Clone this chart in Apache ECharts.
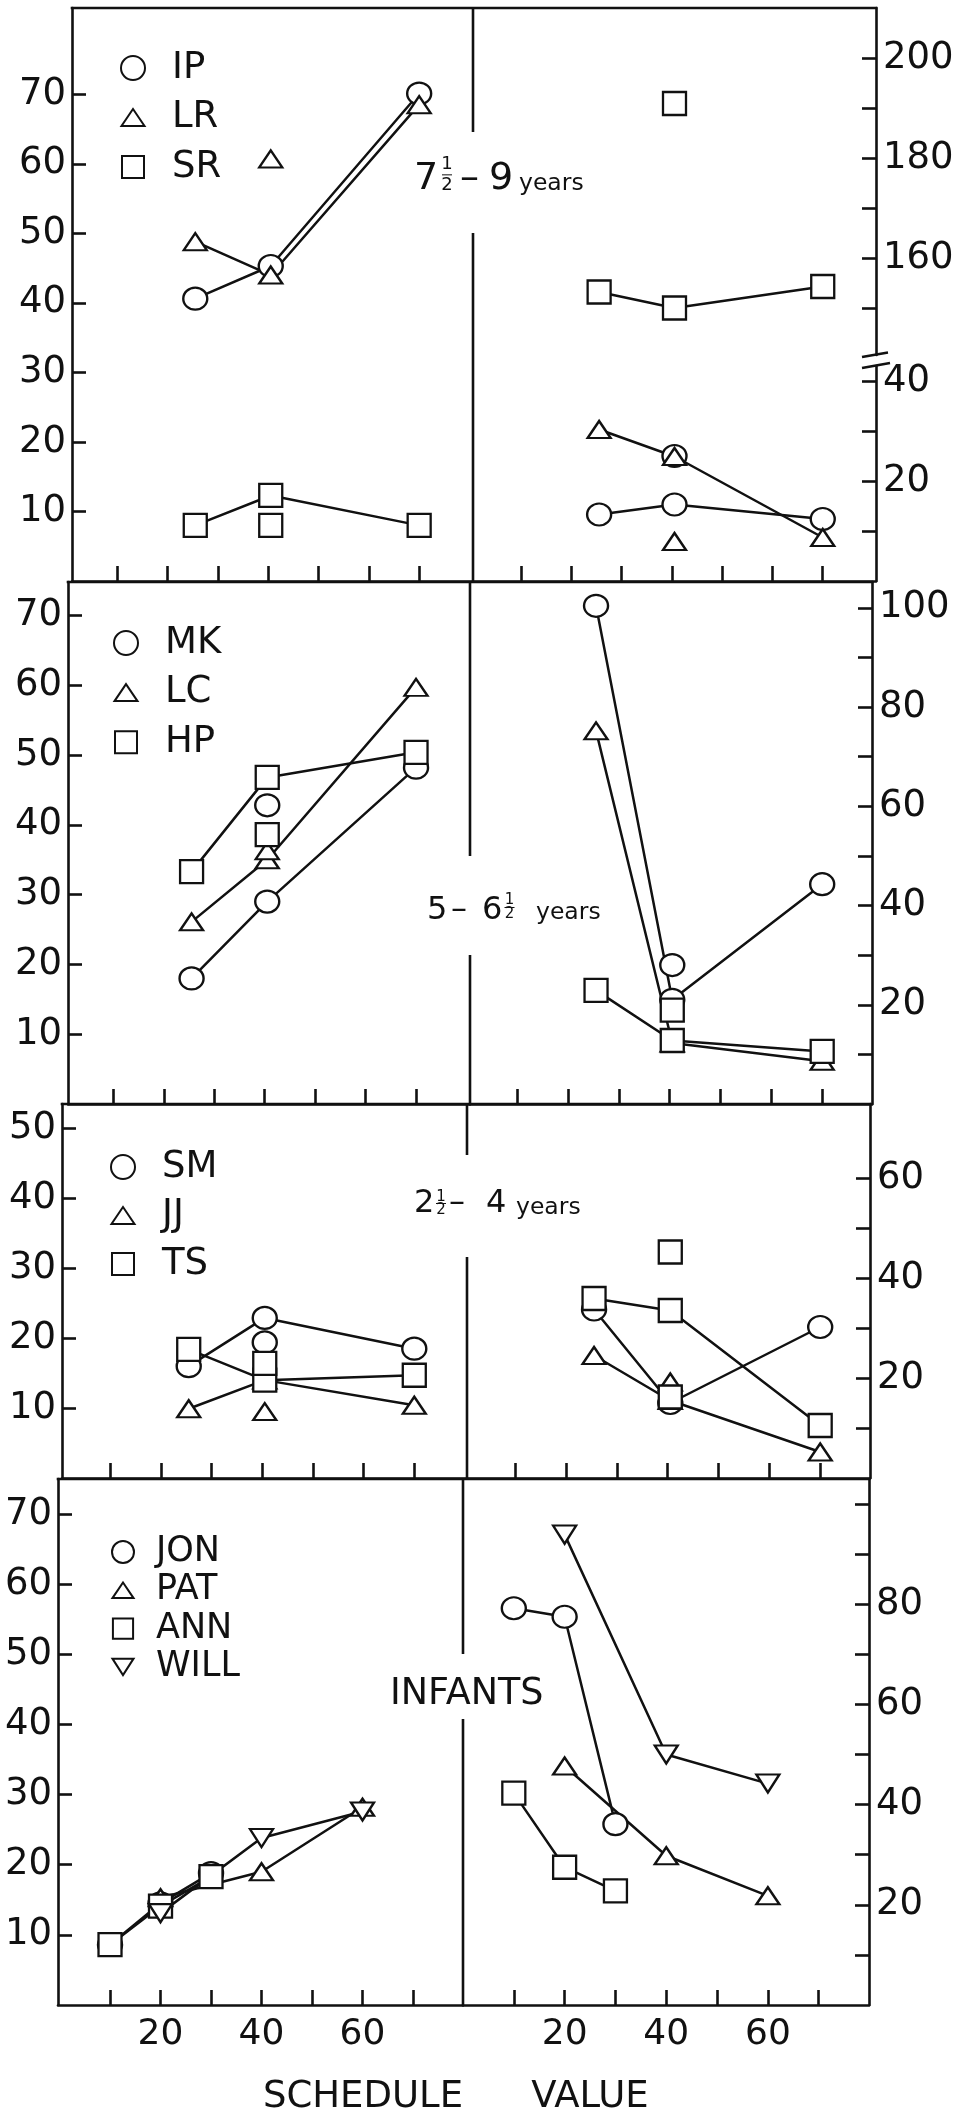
<!DOCTYPE html>
<html>
<head>
<meta charset="utf-8">
<script src="https://cdn.jsdelivr.net/npm/echarts@6/dist/echarts.min.js"></script>
<style>
  html, body { margin: 0; padding: 0; background: #fff; }
  #chart { width: 964px; height: 2115px; }
</style>
</head>
<body>
<div id="chart"></div>
<script>
// ---------------- data ----------------
// schedule values on the x axis
const SCHEDULE = [25.5, 40.5, 70];            // school-age subjects
const SCHEDULE_INF_A = [10, 20, 30];          // JON, ANN
const SCHEDULE_INF_B = [20, 40, 60];          // PAT, WILL

// 7½ - 9 years (left scale / right scale); *_EXTRA are unconnected points
const IP_L = [40.6, 45.3, 70.1];
const LR_L = [48.8, 44.0, 68.5];
const SR_L = [8.0, 12.3, 8.0];
const LR_L_EXTRA = [[40.5, 60.7]];
const SR_L_EXTRA = [[40.5, 8.0]];
const IP_R = [13.3, 15.3, 12.4];
const LR_R = [30.3, 24.9, 8.7];
const SR_R = [153.2, 150.0, 154.3];
const IP_R_EXTRA = [[40.5, 25.0]];
const LR_R_EXTRA = [[40.5, 7.9]];
const SR_R_EXTRA = [[40.5, 190.9]];

// 5 - 6½ years
const MK_L = [18.0, 29.0, 48.2];
const LC_L = [26.1, 35.0, 59.7];
const HP_L = [33.3, 46.8, 50.4];
const MK_L_EXTRA = [[40.5, 42.8]];
const LC_L_EXTRA = [[40.5, 36.3]];
const HP_L_EXTRA = [[40.5, 38.6]];
const MK_R = [100.4, 21.0, 44.3];
const LC_R = [75.2, 12.3, 8.6];
const HP_R = [22.9, 12.8, 10.6];
const MK_R_EXTRA = [[40.5, 28.0]];
const HP_R_EXTRA = [[40.5, 18.9]];

// 2½ - 4 years
const SM_L = [16.0, 22.9, 18.5];
const JJ_L = [9.9, 14.0, 10.4];
const TS_L = [18.4, 14.0, 14.7];
const SM_L_EXTRA = [[40.5, 19.4]];
const JJ_L_EXTRA = [[40.5, 9.5]];
const TS_L_EXTRA = [[40.5, 16.4]];
const SM_R = [33.7, 15.0, 30.2];
const JJ_R = [24.5, 15.5, 5.2];
const TS_R = [35.9, 33.5, 10.5];
const JJ_R_EXTRA = [[40.5, 19.2]];
const TS_R_EXTRA = [[40.5, 45.2], [40.5, 16.2]];

// infants
const JON_L = [8.6, 14.5, 18.8];
const PAT_L = [15.3, 19.0, 28.2];
const ANN_L = [8.6, 14.1, 18.3];
const WILL_L = [13.1, 23.8, 27.6];
const JON_R = [79.2, 77.5, 36.1];
const PAT_R = [47.7, 29.8, 21.8];
const ANN_R = [42.3, 27.5, 22.8];
const WILL_R = [93.9, 50.0, 44.2];

// tick values and labelled ticks
const X_TICKS = [10, 20, 30, 40, 50, 60, 70];
const X_LABELS = [20, 40, 60];
const LEFT_TICKS_70 = [10, 20, 30, 40, 50, 60, 70];
const LEFT_TICKS_50 = [10, 20, 30, 40, 50];
const P1_UPPER_TICKS = [150, 160, 170, 180, 190, 200];
const P1_UPPER_LABELS = [160, 180, 200];
const P1_LOWER_TICKS = [10, 20, 30, 40];
const P1_LOWER_LABELS = [20, 40];
const RIGHT_TICKS_100 = [10, 20, 30, 40, 50, 60, 70, 80, 90, 100];
const RIGHT_LABELS_100 = [20, 40, 60, 80, 100];
const RIGHT_LABELS_80 = [20, 40, 60, 80];
const RIGHT_TICKS_60 = [10, 20, 30, 40, 50, 60];
const RIGHT_LABELS_60 = [20, 40, 60];

// ---------------- layout ----------------
const FONT = 'DejaVu Sans';
const INK = '#111';
const FRAME_W = 2.6;

// plotting areas in px: [left, top, right, bottom]
const GRIDS = [
  [72, 8, 473, 581],      // 0  7½-9, left scale
  [473, 8, 876, 355],     // 1  7½-9, right scale above the break
  [473, 366, 876, 581],   // 2  7½-9, right scale below the break
  [68, 582, 470, 1104],   // 3  5-6½, left
  [470, 582, 872, 1104],  // 4  5-6½, right
  [62, 1104, 467, 1478],  // 5  2½-4, left
  [467, 1104, 870, 1478], // 6  2½-4, right
  [58, 1479, 463, 2005],  // 7  infants, left
  [463, 1479, 869, 2005]  // 8  infants, right
];
const X_RANGE = [[1, 80.7], [0.4, 80.6], [0.4, 80.6], [1, 80.7], [0.7, 79.8], [0.5, 80.4], [0.5, 79.8], [-0.3, 79.9], [0, 79.9]];
const Y_RANGE = [[0, 82.4], [140.6, 210], [0, 43], [0, 74.8], [0, 105.2], [0, 53.5], [0, 74.8], [0, 75], [0, 105]];
const Y_SIDE = ['left', 'right', 'right', 'left', 'right', 'left', 'right', 'left', 'right'];
const Y_TICKS = [LEFT_TICKS_70, P1_UPPER_TICKS, P1_LOWER_TICKS, LEFT_TICKS_70, RIGHT_TICKS_100, LEFT_TICKS_50, RIGHT_TICKS_60, LEFT_TICKS_70, RIGHT_TICKS_100];
const Y_LABELS = [LEFT_TICKS_70, P1_UPPER_LABELS, P1_LOWER_LABELS, LEFT_TICKS_70, RIGHT_LABELS_100, LEFT_TICKS_50, RIGHT_LABELS_60, LEFT_TICKS_70, RIGHT_LABELS_80];

// panel frames: outer edges, centre divider and the gap left for the age label
const PANELS = [
  { left: 72, mid: 473, right: 876, top: 8, bottom: 581, gap: [132, 233] },
  { left: 68, mid: 470, right: 872, top: 582, bottom: 1104, gap: [856, 955] },
  { left: 62, mid: 467, right: 870, top: 1104, bottom: 1478, gap: [1155, 1257] },
  { left: 58, mid: 463, right: 869, top: 1479, bottom: 2005, gap: [1654, 1719] }
];

const axisLineStyle = { color: INK, width: FRAME_W };

const grid = GRIDS.map(g => ({
  left: g[0], top: g[1], width: g[2] - g[0], height: g[3] - g[1],
  containLabel: false, outerBoundsMode: 'none'
}));

const xAxis = GRIDS.map((g, i) => ({
  type: 'value', gridIndex: i, min: X_RANGE[i][0], max: X_RANGE[i][1],
  show: i !== 1,
  position: 'bottom',
  axisLine: { show: true, onZero: false, lineStyle: axisLineStyle },
  axisTick: { show: true, inside: true, length: 15, customValues: X_TICKS, lineStyle: axisLineStyle },
  axisLabel: {
    show: i >= 7, customValues: X_LABELS, margin: 12,
    fontFamily: FONT, fontSize: 36, color: INK
  },
  splitLine: { show: false }
}));

const yAxis = GRIDS.map((g, i) => ({
  type: 'value', gridIndex: i, min: Y_RANGE[i][0], max: Y_RANGE[i][1],
  position: Y_SIDE[i],
  axisLine: { show: true, onZero: false, lineStyle: axisLineStyle },
  axisTick: { show: true, inside: true, length: 14, customValues: Y_TICKS[i], lineStyle: axisLineStyle },
  axisLabel: {
    show: true, customValues: Y_LABELS[i], margin: Y_SIDE[i] === 'left' ? 6 : 7,
    fontFamily: FONT, fontSize: 37, color: INK
  },
  splitLine: { show: false }
}));

// ---------------- series ----------------
const LINE = { color: INK, width: 2.5 };
const MARK = { color: '#fff', borderColor: INK, borderWidth: 2.3, opacity: 1 };
const SHAPES = {
  circle: { symbol: 'circle', size: [24, 22] },
  triangle: { symbol: 'triangle', size: [23, 17] },
  square: { symbol: 'rect', size: [23, 23] },
  down: { symbol: 'path://M0,0L23,0L11.5,18Z', size: [23, 18] }
};

const lineSeries = [];
const markSeries = [];
function subject(name, shape, gridIndex, xs, ys, extra) {
  const pts = xs.map((x, k) => [x, ys[k]]);
  lineSeries.push({
    type: 'line', name, xAxisIndex: gridIndex, yAxisIndex: gridIndex,
    data: pts, symbol: 'none', lineStyle: LINE, z: 2, silent: true, animation: false
  });
  markSeries.push({
    type: 'scatter', name, xAxisIndex: gridIndex, yAxisIndex: gridIndex,
    data: pts.concat(extra || []), symbol: SHAPES[shape].symbol, symbolSize: SHAPES[shape].size,
    itemStyle: MARK, z: 3, silent: true, animation: false
  });
}

subject('IP', 'circle', 0, SCHEDULE, IP_L);
subject('LR', 'triangle', 0, SCHEDULE, LR_L, LR_L_EXTRA);
subject('SR', 'square', 0, SCHEDULE, SR_L, SR_L_EXTRA);
subject('SR', 'square', 1, SCHEDULE, SR_R, SR_R_EXTRA);
subject('IP', 'circle', 2, SCHEDULE, IP_R, IP_R_EXTRA);
subject('LR', 'triangle', 2, SCHEDULE, LR_R, LR_R_EXTRA);

subject('MK', 'circle', 3, SCHEDULE, MK_L, MK_L_EXTRA);
subject('LC', 'triangle', 3, SCHEDULE, LC_L, LC_L_EXTRA);
subject('HP', 'square', 3, SCHEDULE, HP_L, HP_L_EXTRA);
subject('MK', 'circle', 4, SCHEDULE, MK_R, MK_R_EXTRA);
subject('LC', 'triangle', 4, SCHEDULE, LC_R);
subject('HP', 'square', 4, SCHEDULE, HP_R, HP_R_EXTRA);

subject('SM', 'circle', 5, SCHEDULE, SM_L, SM_L_EXTRA);
subject('JJ', 'triangle', 5, SCHEDULE, JJ_L, JJ_L_EXTRA);
subject('TS', 'square', 5, SCHEDULE, TS_L, TS_L_EXTRA);
subject('SM', 'circle', 6, SCHEDULE, SM_R);
subject('JJ', 'triangle', 6, SCHEDULE, JJ_R, JJ_R_EXTRA);
subject('TS', 'square', 6, SCHEDULE, TS_R, TS_R_EXTRA);

subject('JON', 'circle', 7, SCHEDULE_INF_A, JON_L);
subject('PAT', 'triangle', 7, SCHEDULE_INF_B, PAT_L);
subject('ANN', 'square', 7, SCHEDULE_INF_A, ANN_L);
subject('WILL', 'down', 7, SCHEDULE_INF_B, WILL_L);
subject('JON', 'circle', 8, SCHEDULE_INF_A, JON_R);
subject('PAT', 'triangle', 8, SCHEDULE_INF_B, PAT_R);
subject('ANN', 'square', 8, SCHEDULE_INF_A, ANN_R);
subject('WILL', 'down', 8, SCHEDULE_INF_B, WILL_R);

// ---------------- legends ----------------
// icons are drawn inside a square box so every shape keeps its proportions
const ICONS = {
  circle: 'circle',
  triangle: 'path://M0,0M24,24M12,3.5L23.5,20.5L0.5,20.5Z',
  square: 'path://M0,0M24,24M1,1L23,1L23,23L1,23Z',
  down: 'path://M0,0M24,24M0.5,3L23.5,3L12,21Z'
};
function legendBlock(items, left, top, iconBox, gap, fontSize, lineHeight) {
  return {
    orient: 'vertical', left, top, padding: 0,
    itemWidth: iconBox[0], itemHeight: iconBox[1], itemGap: gap,
    symbolKeepAspect: true, selectedMode: false,
    itemStyle: { color: '#fff', borderColor: INK, borderWidth: 2 },
    textStyle: { fontFamily: FONT, fontSize, lineHeight, color: INK },
    data: items.map(([name, shape]) => ({ name, icon: ICONS[shape] }))
  };
}
const legend = [
  legendBlock([['IP', 'circle'], ['LR', 'triangle'], ['SR', 'square']], 120, 48, [68, 24], 9.5, 37, 40),
  legendBlock([['MK', 'circle'], ['LC', 'triangle'], ['HP', 'square']], 113, 623, [68, 24], 9.6, 37, 40),
  legendBlock([['SM', 'circle'], ['JJ', 'triangle'], ['TS', 'square']], 110, 1147, [68, 24], 8.5, 37, 40),
  legendBlock([['JON', 'circle'], ['PAT', 'triangle'], ['ANN', 'square'], ['WILL', 'down']], 111, 1534, [56, 22], 2.3, 35, 36)
];

// ---------------- frame, age labels, axis title ----------------
function seg(x1, y1, x2, y2, w) {
  return { type: 'line', silent: true, shape: { x1, y1, x2, y2 },
    style: { stroke: INK, lineWidth: w || FRAME_W, lineCap: 'butt' } };
}
function txt(x, y, text, size, align) {
  return { type: 'text', silent: true, x, y,
    style: { text, fontFamily: FONT, fontSize: size, fill: INK, align: align || 'left', verticalAlign: 'middle' } };
}
function frac(cx, yTop, yBottom, size) {
  const bar = (yTop + yBottom) / 2;
  return [
    txt(cx, yTop, '1', size, 'center'),
    seg(cx - 5, bar, cx + 5, bar, 1),
    txt(cx, yBottom, '2', size, 'center')
  ];
}

const graphic = [];
PANELS.forEach(p => {
  graphic.push(seg(p.left - 1.3, p.top, p.right + 1.3, p.top));
  graphic.push(seg(p.mid, p.top, p.mid, p.gap[0]));
  graphic.push(seg(p.mid, p.gap[1], p.mid, p.bottom));
});
// break marks on the right scale of the 7½-9 panel
const BRK_X = GRIDS[1][2];
graphic.push(seg(BRK_X - 14, GRIDS[1][3] + 2, BRK_X + 12, GRIDS[1][3] - 2.5));
graphic.push(seg(BRK_X - 14, GRIDS[2][1] + 2, BRK_X + 14, GRIDS[2][1] - 3));

// age labels
graphic.push(txt(414, 179, '7', 38), ...frac(447, 164.7, 185, 18), txt(460, 179, '\u2013', 38), txt(489, 179, '9', 38), txt(519, 183.5, 'years', 23.5));
graphic.push(txt(427, 911, '5', 32), txt(451, 911, '\u2013', 32), txt(482, 911, '6', 32), ...frac(509.5, 900.5, 914.5, 15), txt(536, 913, 'years', 23.5));
graphic.push(txt(414, 1204, '2', 32), ...frac(441, 1197, 1210, 15), txt(449, 1204, '\u2013', 32), txt(486, 1204, '4', 32), txt(516, 1208, 'years', 23.5));
graphic.push(txt(390, 1695, 'INFANTS', 36.5));

// x-axis title, one word under each half
graphic.push(txt(363, 2097, 'SCHEDULE', 37, 'center'), txt(590, 2097, 'VALUE', 37, 'center'));

const chart = echarts.init(document.getElementById('chart'), null, { renderer: 'canvas' });
chart.setOption({
  backgroundColor: '#fff',
  animation: false,
  grid, xAxis, yAxis, legend,
  series: lineSeries.concat(markSeries),
  graphic: { elements: graphic }
});
</script>
</body>
</html>
